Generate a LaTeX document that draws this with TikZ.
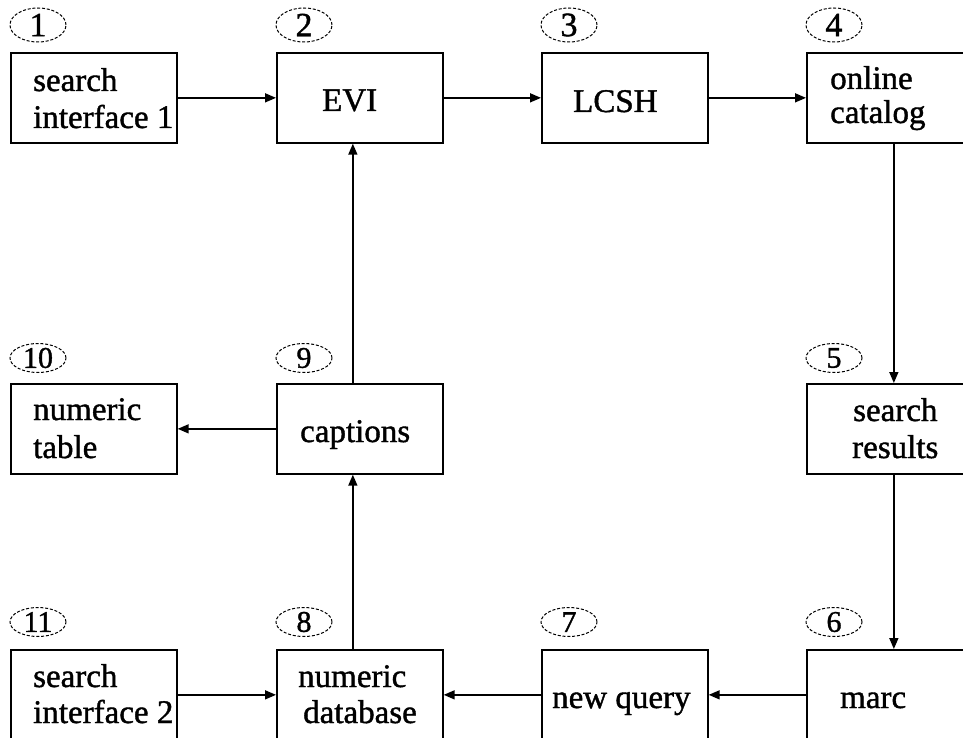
\documentclass[tikz,border=0pt]{standalone}
\usepackage{fontspec}
\setmainfont[FakeBold=1.2]{Liberation Serif}
\usetikzlibrary{arrows.meta,shapes.geometric}
\begin{document}
\begin{tikzpicture}[x=1pt,y=-1pt,
 box/.style={draw, line width=1.7pt, minimum width=166pt, minimum height=90pt, anchor=north west, inner sep=0pt},
 num/.style={draw, ellipse, dash pattern=on 3pt off 1.8pt, line width=1pt, minimum width=56pt, minimum height=29pt, inner sep=0pt, font=\fontsize{30}{30}\selectfont},
 numtop/.style={num, minimum height=34pt, font=\fontsize{34}{34}\selectfont},
 lbl/.style={anchor=base west, inner sep=0pt, font=\fontsize{33}{36}\selectfont},
 arr/.style={line width=1.6pt, -{Triangle[length=11pt,width=9pt]}}
]
\clip (0,0) rectangle (963,738);
\fill[white] (0,0) rectangle (963,738);

% boxes
\node[box] (b1) at (10,52) {};
\node[box] (b2) at (276,52) {};
\node[box] (b3) at (541,52) {};
\node[box] (b4) at (806,52) {};
\node[box] (b10) at (10,383) {};
\node[box] (b9) at (276,383) {};
\node[box] (b5) at (806,383) {};
\node[box] (b11) at (10,649) {};
\node[box] (b8) at (276,649) {};
\node[box] (b7) at (541,649) {};
\node[box] (b6) at (806,649) {};

% numbers
\node[numtop] (n1) at (38,25) {1};
\node[numtop] (n2) at (304,25) {2};
\node[numtop] (n3) at (569,25) {3};
\node[numtop] (n4) at (834,25) {4};
\node[num] (n10) at (38,358) {10};
\node[num] (n9) at (304,358) {9};
\node[num] (n5) at (834,358) {5};
\node[num] (n11) at (38,622) {11};
\node[num] (n8) at (304,622) {8};
\node[num] (n7) at (569,622) {7};
\node[num] (n6) at (834,622) {6};

% labels
\node[lbl] (t1a) at (33,91) {search};
\node[lbl] (t1b) at (33,128) {interface 1};
\node[lbl] (t2) at (322,111) {EVI};
\node[lbl] (t3) at (573,112) {LCSH};
\node[lbl] (t4a) at (830,89) {online};
\node[lbl] (t4b) at (830,123) {catalog};
\node[lbl] (t10a) at (33,420) {numeric};
\node[lbl] (t10b) at (33,458) {table};
\node[lbl] (t9) at (300,442) {captions};
\node[lbl] (t5a) at (853,421) {search};
\node[lbl] (t5b) at (852,458) {results};
\node[lbl] (t11a) at (33,687) {search};
\node[lbl] (t11b) at (33,723) {interface 2};
\node[lbl] (t8a) at (298,687) {numeric};
\node[lbl] (t8b) at (303,723) {database};
\node[lbl] (t7) at (552,708) {new query};
\node[lbl] (t6) at (840,708) {marc};

% connectors
\draw[arr] (b1.east) -- (b2.west);
\draw[arr] (b2.east) -- (b3.west);
\draw[arr] (b3.east) -- (b4.west);
\draw[arr] ([xshift=4pt]b4.south) -- ([xshift=4pt]b5.north);
\draw[arr] ([xshift=4pt]b5.south) -- ([xshift=4pt]b6.north);
\draw[arr] (b6.west) -- (b7.east);
\draw[arr] (b7.west) -- (b8.east);
\draw[arr] (b11.east) -- (b8.west);
\draw[arr] ([xshift=-7pt]b8.north) -- ([xshift=-7pt]b9.south);
\draw[arr] (b9.west) -- (b10.east);
\draw[arr] ([xshift=-7pt]b9.north) -- ([xshift=-7pt]b2.south);
\end{tikzpicture}
\end{document}
